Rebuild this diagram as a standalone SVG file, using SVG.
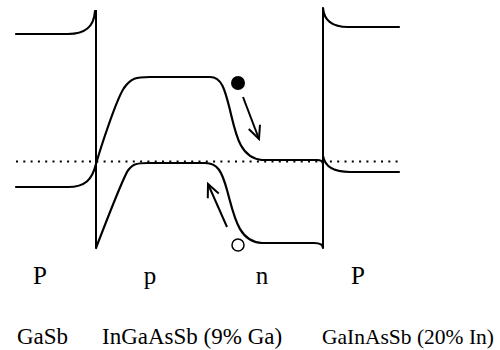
<svg xmlns="http://www.w3.org/2000/svg" width="500" height="350" viewBox="0 0 500 350">
<style>
.band{fill:none;stroke:#000;stroke-width:2.2;stroke-linecap:round;stroke-linejoin:round}
.wall{fill:none;stroke:#000;stroke-width:2}
.fermi{fill:none;stroke:#000;stroke-width:2;stroke-dasharray:2 5.3}
.arr{fill:none;stroke:#000;stroke-width:2}
.lbl{font-family:"Liberation Serif","Times New Roman",serif;fill:#000}
</style>
<defs>
<marker id="head" markerUnits="userSpaceOnUse" markerWidth="18" markerHeight="18" refX="14" refY="7" orient="auto">
<path d="M1,1 L14,7 L1,13" fill="none" stroke="#000" stroke-width="2"/>
</marker>
</defs>
<g id="bands">
<path class="fermi" d="M16,161.5 H399"/>
<path class="wall" d="M96,10 V248"/>
<path class="wall" d="M323,8 V248"/>
<path class="band" d="M16,34 H68 C84,34 94,28 95,11"/>
<path class="band" d="M16,187 H68 C85,187 92,180 96,164 C100,150 116,100 124,88 C131,78 136,77 150,77 H210 C222,77 225,90 230,110 C236,135 240,158 262,160 H317 C321,160 323,162 323,164"/>
<path class="band" d="M96,248 C105,225 118,190 127,172 C132,164 136,163 148,163 H205 C218,163 222,172 227,190 C234,215 238,242 262,243 H314 C320,243 323,245 323,248"/>
<path class="band" d="M323,8 C324,20 332,27 348,27 H399"/>
<path class="band" d="M323,156 C325,166 332,172 350,172 H399"/>
</g>
<g id="electron">
<circle cx="238" cy="83" r="7" fill="#000"/>
<path class="arr" d="M243,97 L259,139" marker-end="url(#head)"/>
</g>
<g id="hole">
<circle cx="238" cy="245" r="6" fill="#fff" stroke="#000" stroke-width="1.5"/>
<path class="arr" d="M227,227 L208,184" marker-end="url(#head)"/>
</g>
<g id="labels" class="lbl">
<text x="40" y="284" font-size="25" text-anchor="middle">P</text>
<text x="150" y="284" font-size="25" text-anchor="middle">p</text>
<text x="262" y="284" font-size="25" text-anchor="middle">n</text>
<text x="358" y="284" font-size="25" text-anchor="middle">P</text>
<text x="17" y="344" font-size="23">GaSb</text>
<text x="102" y="344" font-size="23">InGaAsSb (9% Ga)</text>
<text x="322" y="344" font-size="21.5">GaInAsSb (20% In)</text>
</g>
</svg>
